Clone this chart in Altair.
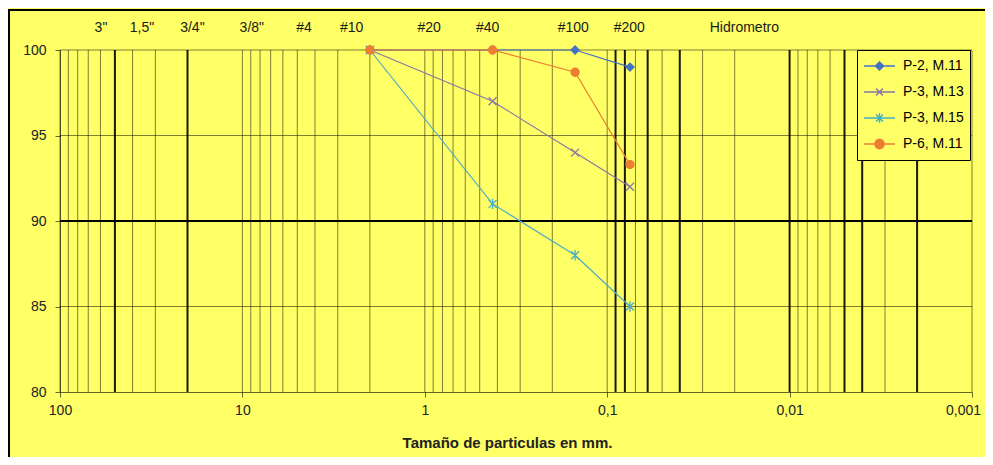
import altair as alt
import pandas as pd

# ---------------- data ----------------
sizes_mm = [2.0, 0.425, 0.15, 0.075]
series_names = ["P-2, M.11", "P-3, M.13", "P-3, M.15", "P-6, M.11"]
p2_m11 = [100, 100, 100, 99]
p3_m13 = [100, 97, 94, 92]
p3_m15 = [100, 91, 88, 85]
p6_m11 = [100, 100, 98.7, 93.3]

sieve_labels = ['3"', '1,5"', '3/4"', '3/8"', '#4', '#10', '#20', '#40', '#100', '#200', 'Hidrometro']
sieve_label_mm = [59.6, 35.5, 18.8, 8.88, 4.59, 2.52, 0.946, 0.452, 0.1535, 0.0757, 0.0177]

x_ticks = [100, 10, 1, 0.1, 0.01, 0.001]
y_ticks = [80, 85, 90, 95, 100]

grid_thin = [100, 90, 80, 70, 60, 40, 30,
             10, 9, 8, 7, 6, 5, 4, 3, 2,
             1, 0.9, 0.8, 0.7, 0.6, 0.5, 0.4, 0.3, 0.2,
             0.1, 0.07, 0.05, 0.03, 0.02,
             0.009, 0.008, 0.007, 0.006, 0.003, 0.001]
grid_bold = [50, 20, 0.09, 0.08, 0.06, 0.04, 0.01, 0.005, 0.004, 0.002]
hgrid_thin = [85, 95, 100]
hgrid_bold = [90]

# ---------------- style ----------------
BG = "#FFFF66"
FONT = "Liberation Sans"
colors = ["#4472C4", "#8878A6", "#4BACC6", "#ED7D31"]
plot_shapes = ["diamond",
               "M-1,-1L1,1M-1,1L1,-1",
               "M-1,-1L1,1M-1,1L1,-1M0,-1.3L0,1.3",
               "circle"]
legend_shapes = ["M-1,0L1,0M0,-0.26L0.26,0L0,0.26L-0.26,0Z",
                 "M-1,0L1,0M-0.22,-0.22L0.22,0.22M-0.22,0.22L0.22,-0.22",
                 "M-1,0L1,0M-0.22,-0.22L0.22,0.22M-0.22,0.22L0.22,-0.22M0,-0.3L0,0.3",
                 "M-1,0L1,0M0.3,0A0.3,0.3,0,1,1,-0.3,0A0.3,0.3,0,1,1,0.3,0Z"]

rows = []
for name, vals in zip(series_names, [p2_m11, p3_m13, p3_m15, p6_m11]):
    for s, v in zip(sizes_mm, vals):
        rows.append({"serie": name, "mm": s, "pct": v})
df = pd.DataFrame(rows)

xscale = alt.Scale(type="log", domain=[0.001, 100], reverse=True, nice=False)
yscale = alt.Scale(domain=[80, 100], nice=False, zero=False)

W, H = 912, 342

x_axis = alt.Axis(
    values=x_ticks, labelExpr="replace(toString(datum.value), '.', ',')",
    grid=False, labelFlush=False, labelFont=FONT, labelFontSize=14, labelColor="#222",
    labelOffset={"condition": {"test": "datum.value < 0.005", "value": -9}, "value": 0},
    tickSize=5, tickColor="black", tickOpacity=0.6, domainColor="black", domainOpacity=0.6,
    labelPadding=6, title="Tamaño de particulas en mm.", titleFont=FONT, titleFontSize=15,
    titleFontWeight="bold", titleColor="#222", titleX=447, titleY=55, titleBaseline="alphabetic",
)
y_axis = alt.Axis(
    values=y_ticks, grid=False, labelFont=FONT, labelFontSize=14, labelColor="#222",
    tickSize=5, tickColor="black", tickOpacity=0.6, domainColor="black", domainOpacity=0.6,
    labelPadding=9, title=None,
)

# border of the whole chart area
border = alt.Chart(pd.DataFrame({"a": [0]})).mark_rect(
    fillOpacity=0, stroke="black", strokeWidth=2
).encode(x=alt.value(-51), x2=alt.value(2000), y=alt.value(-40), y2=alt.value(2000))

vthin = alt.Chart(pd.DataFrame({"mm": grid_thin})).mark_rule(
    color="black", opacity=0.5, strokeWidth=1
).encode(x=alt.X("mm:Q", scale=xscale, axis=x_axis))
vbold = alt.Chart(pd.DataFrame({"mm": grid_bold})).mark_rule(
    color="black", opacity=0.9, strokeWidth=2
).encode(x=alt.X("mm:Q", scale=xscale, axis=x_axis))
hthin = alt.Chart(pd.DataFrame({"pct": hgrid_thin})).mark_rule(
    color="black", opacity=0.5, strokeWidth=1
).encode(y=alt.Y("pct:Q", scale=yscale, axis=y_axis))
hbold = alt.Chart(pd.DataFrame({"pct": hgrid_bold})).mark_rule(
    color="black", opacity=1, strokeWidth=2
).encode(y=alt.Y("pct:Q", scale=yscale, axis=y_axis))

lines = alt.Chart(df).mark_line(strokeWidth=1.2, opacity=1).encode(
    x=alt.X("mm:Q", scale=xscale, axis=x_axis),
    y=alt.Y("pct:Q", scale=yscale, axis=y_axis),
    color=alt.Color("serie:N", scale=alt.Scale(domain=series_names, range=colors), legend=None),
    detail="serie:N",
)

points = alt.Chart(df).mark_point(filled=True, opacity=1, strokeWidth=1.3).encode(
    x=alt.X("mm:Q", scale=xscale, axis=x_axis),
    y=alt.Y("pct:Q", scale=yscale, axis=y_axis),
    fill=alt.Fill("serie:N", scale=alt.Scale(domain=series_names, range=colors), legend=None),
    stroke=alt.Stroke("serie:N", scale=alt.Scale(domain=series_names, range=colors), legend=None),
    shape=alt.Shape("serie:N", scale=alt.Scale(domain=series_names, range=plot_shapes), legend=None),
    size=alt.Size("serie:N", scale=alt.Scale(domain=series_names, range=[64, 64, 64, 90]), legend=None),
)

leg = alt.Legend(
    orient="none", legendX=797, legendY=0, title=None,
    strokeColor="black", fillColor=BG, padding=6,
    symbolSize=961, symbolStrokeWidth=1.5, clipHeight=20, rowPadding=6,
    labelFont=FONT, labelFontSize=14, labelColor="black", labelOffset=7,
)
legend_layer = alt.Chart(df).transform_filter("false").mark_point(
    filled=True, opacity=1, strokeWidth=1.5
).encode(
    x=alt.X("mm:Q", scale=xscale, axis=x_axis),
    y=alt.Y("pct:Q", scale=yscale, axis=y_axis),
    fill=alt.Fill("serie:N", scale=alt.Scale(domain=series_names, range=colors), legend=leg),
    stroke=alt.Stroke("serie:N", scale=alt.Scale(domain=series_names, range=colors), legend=leg),
    shape=alt.Shape("serie:N", scale=alt.Scale(domain=series_names, range=legend_shapes), legend=leg),
)

top_labels = alt.Chart(pd.DataFrame({"t": sieve_labels, "mm": sieve_label_mm})).mark_text(
    font=FONT, fontSize=14, color="#1a1a1a", baseline="middle", align="center"
).encode(x=alt.X("mm:Q", scale=xscale, axis=x_axis), y=alt.value(-22), text="t:N")

chart = alt.layer(
    border, vthin, vbold, hthin, hbold, lines, points, legend_layer, top_labels
).resolve_scale(
    fill="independent", stroke="independent", shape="independent"
).properties(
    width=W, height=H,
    autosize=alt.AutoSizeParams(type="none"),
    padding={"left": 52, "top": 42, "right": 13, "bottom": 65},
).configure(background=BG).configure_view(stroke=None, fill=BG)

chart.save("out.html", embed_options={"renderer": "svg", "actions": False})
